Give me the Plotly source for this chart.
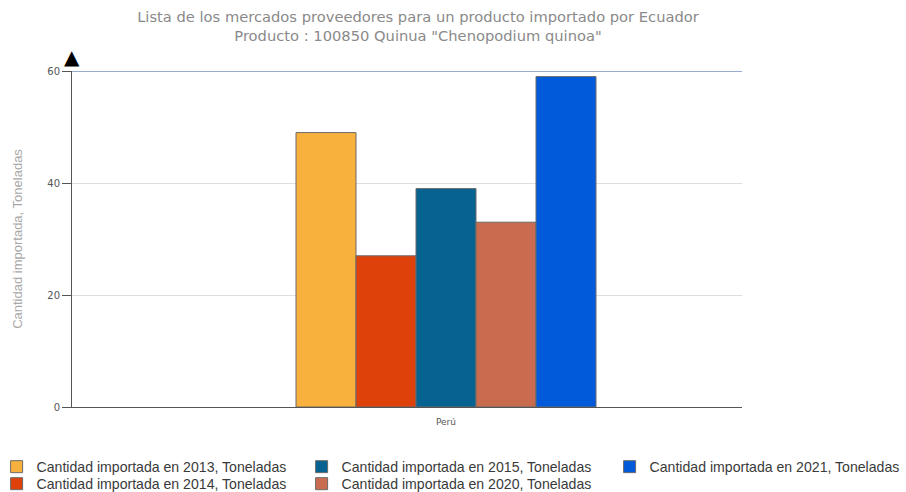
import plotly.graph_objects as go

categories = ["Perú"]
series_names = [
    "Cantidad importada en 2013, Toneladas",
    "Cantidad importada en 2014, Toneladas",
    "Cantidad importada en 2015, Toneladas",
    "Cantidad importada en 2020, Toneladas",
    "Cantidad importada en 2021, Toneladas",
]
values_2013 = [49]
values_2014 = [27]
values_2015 = [39]
values_2020 = [33]
values_2021 = [59]
series_values = [values_2013, values_2014, values_2015, values_2020, values_2021]
colors = ["#F9B13E", "#DE410A", "#066391", "#C96B4E", "#005AD9"]
y_ticks = [0, 20, 40, 60]

# legend slot per series: (column, row)
legend_slots = [(0, 0), (0, 1), (1, 0), (1, 1), (2, 0)]
legend_col_x = [-3.4, 301.6, 609.6]
legend_row_top = [451, 468]

PLOT_L, PLOT_W, PLOT_B, PLOT_H = 72, 670, 407, 336

fig = go.Figure()
legend_layouts = {}
for i, (name, vals, col, slot) in enumerate(zip(series_names, series_values, colors, legend_slots)):
    key = "legend" if i == 0 else f"legend{i + 1}"
    fig.add_trace(go.Bar(
        x=categories, y=vals, name=name,
        marker=dict(color=col, line=dict(color="#6b6b6b", width=1)),
        legend=key,
    ))
    c, r = slot
    legend_layouts[key] = dict(
        orientation="v", xref="paper", yref="paper",
        x=(legend_col_x[c] - PLOT_L) / PLOT_W, xanchor="left",
        y=(PLOT_B - legend_row_top[r]) / PLOT_H, yanchor="top",
        itemwidth=30, tracegroupgap=0,
        font=dict(family="Liberation Sans", size=14.1, color="#3a3a3a"),
        bgcolor="rgba(0,0,0,0)",
    )

fig.update_layout(
    width=906, height=492,
    margin=dict(l=72, r=164, t=71, b=85, autoexpand=False),
    paper_bgcolor="white", plot_bgcolor="white",
    barmode="group", bargap=0.5, bargroupgap=0,
    font=dict(family="DejaVu Sans", color="#555555"),
    title=dict(
        text="Lista de los mercados proveedores para un producto importado por Ecuador<br>Producto : 100850 Quinua \"Chenopodium quinoa\"",
        x=418 / 906, xanchor="center", y=0.955, yanchor="top",
        font=dict(family="DejaVu Sans", size=14.7, color="#8a8a8a"),
    ),
    xaxis=dict(
        range=[-374 / 600, 296 / 600],
        showline=True, linecolor="#555555", linewidth=1,
        showgrid=False, ticks="", ticklabelstandoff=6,
        tickfont=dict(size=9, color="#555555"),
        fixedrange=True, automargin=False,
    ),
    yaxis=dict(
        range=[0, 60], tickvals=y_ticks,
        showline=True, linecolor="#555555", linewidth=1,
        ticks="outside", ticklen=9, tickcolor="#555555",
        tickfont=dict(size=10, color="#555555"),
        showgrid=True, gridcolor="#dedede", gridwidth=1,
        zeroline=False, automargin=False,
        title=dict(text="Cantidad importada, Toneladas", standoff=21,
                   font=dict(size=13, color="#a8a8a8", family="Liberation Sans")),
    ),
    showlegend=True,
    **legend_layouts,
)

fig.add_shape(type="line", xref="paper", yref="y", x0=0, x1=1, y0=60, y1=60,
              line=dict(color="#98abd0", width=2))
fig.add_annotation(xref="paper", yref="paper", x=0, y=1.0, xanchor="center",
                   yanchor="middle", yshift=14,
                   text="▲", showarrow=False, font=dict(size=20, color="black"))

fig.write_html("out.html", config={"displayModeBar": False},
               post_script="document.body.style.margin='0';")
